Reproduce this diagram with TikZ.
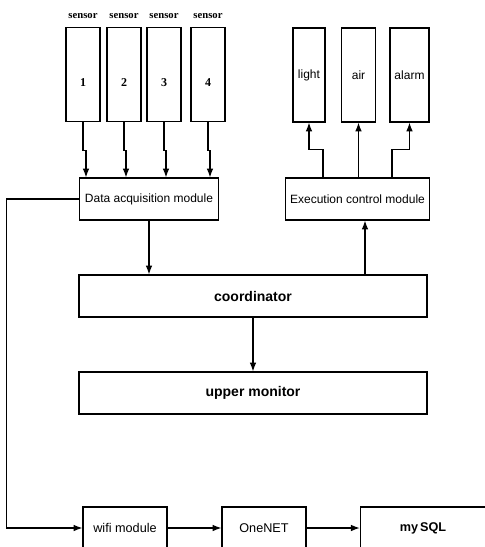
\documentclass[tikz,border=0pt]{standalone}
\usepackage{fontspec}
\setmainfont{Liberation Sans}
\newfontfamily\timesfont{Liberation Serif}
\usetikzlibrary{arrows.meta}

\begin{document}
\begin{tikzpicture}[x=0.75pt, y=-0.75pt, line width=0.8pt,
        sbox/.style = {draw, line width=0.9pt, minimum width=25.5pt, minimum height=71pt, text height=18pt, text depth=0pt, font=\timesfont\bfseries\fontsize{9}{10}\selectfont},
        tag/.style = {font=\timesfont\bfseries\fontsize{8}{9}\selectfont, label distance=2pt},
        abox/.style = {draw, line width=0.9pt, minimum height=70.5pt, font=\fontsize{9}{10}\selectfont},
        mbox/.style = {draw, line width=0.9pt, minimum width=104.5pt, minimum height=31.5pt, font=\fontsize{9}{11}\selectfont},
        wbox/.style = {draw, line width=0.9pt, minimum width=261pt, minimum height=31.5pt, font=\bfseries\fontsize{10.5}{12}\selectfont},
        nbox/.style = {draw, line width=0.9pt, minimum width=63pt, minimum height=31.5pt, font=\fontsize{9.5}{11}\selectfont}]
    \useasboundingbox (0,0) rectangle (485,547);
    \clip (0,0) rectangle (485,547);

    % sensors
    \node[sbox, label={[tag, name=t1]above:sensor}] (s1) at (83,74.5) {1};
    \node[sbox, label={[tag, name=t2]above:sensor}] (s2) at (124,74.5) {2};
    \node[sbox, label={[tag, name=t3]above:sensor}] (s3) at (164,74.5) {3};
    \node[sbox, label={[tag, name=t4]above:sensor}] (s4) at (208,74.5) {4};

    % actuators
    \node[abox, minimum width=24pt] (light) at (309,75) {light};
    \node[abox, minimum width=26pt] (air) at (358.5,75) {air};
    \node[abox, minimum width=29pt] (alarm) at (409.5,75) {alarm};

    \node[mbox] (dam) at (149,199) {Data acquisition module};
    \node[mbox] (ecm) at (357.5,199) {Execution control module};
    \node[wbox] (coord) at (253,296) {coordinator};
    \node[wbox] (monitor) at (253,393) {upper monitor};

    \node[nbox] (wifi) at (125,528) {wifi module};
    \node[nbox] (onenet) at (264,528) {OneNET};
    \node[nbox, minimum width=94pt, font=\bfseries\fontsize{9.5}{11}\selectfont] (mysql) at (423,528) {my\,SQL};

    \foreach \s/\x in {s1/86, s2/126, s3/166, s4/210}
        \draw[-Latex] (\s.south) -- ++(0,28) -| (\x,0 |- dam.north);

    \draw[-Latex] (323,0 |- ecm.north) -- ++(0,-28) -| (light.south);
    \path[-Latex] (air.south |- ecm.north) edge (air.south);
    \draw[-Latex] (392,0 |- ecm.north) -- ++(0,-28) -| (alarm.south);

    \path[-Latex] (dam.south) edge (dam.south |- coord.north);
    \path[-Latex] (365,0 |- coord.north) edge (365,0 |- ecm.south);
    \path[-Latex] (coord.south) edge (monitor.north);

    \draw[-Latex] (dam.west) -- ++(-72,0) |- (wifi.west);
    \path[-Latex] (wifi) edge (onenet);
    \path[-Latex] (onenet) edge (mysql);
\end{tikzpicture}
\end{document}
